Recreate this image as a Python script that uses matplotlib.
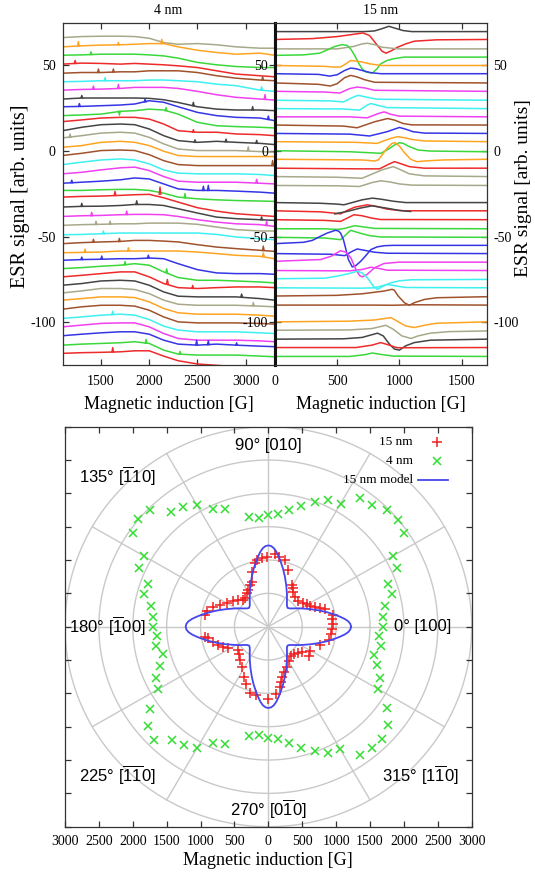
import numpy as np
import matplotlib
matplotlib.use('Agg')
import matplotlib.pyplot as plt

plt.rcParams['font.family'] = ['Liberation Serif', 'DejaVu Serif']
plt.rcParams['mathtext.fontset'] = 'custom'
plt.rcParams['mathtext.rm'] = 'Liberation Sans'
plt.rcParams['mathtext.default'] = 'rm'
plt.rcParams['axes.unicode_minus'] = False

PAL = {'r': '#ee2a2a', 'g': '#3ad83a', 'b': '#3535e6', 'm': '#f040f0', 'c': '#3ef0f0',
       'br': '#a0522d', 'o': '#ffa422', 'ol': '#a8a88a', 'k': '#454545'}

# ---------------- 4 nm spectra ----------------
FIELD_4NM = [1100, 1300, 1500, 1700, 1850, 2000, 2150, 2300, 2500, 2700, 2900, 3150, 3300]
COLORS_4NM = ['ol', 'o', 'g', 'r', 'br', 'c', 'm', 'k', 'b', 'g', 'r', 'k', 'ol', 'o', 'br', 'c', 'm', 'b', 'g',
              'r', 'k', 'm', 'ol', 'c', 'br', 'o', 'b', 'g', 'r', 'k', 'ol', 'o', 'br', 'c', 'm', 'b', 'g', 'r']
SIGNAL_4NM = [
    [66.3, 66.9, 67.1, 67.1, 66.9, 65.9, 63.4, 62.4, 62.8, 62.1, 60.9, 60.1, 60.1],
    [60.9, 61.5, 61.9, 62.1, 62.4, 62.8, 62.8, 60.9, 58.9, 57.6, 56.6, 57.2, 56.0],
    [56.0, 56.2, 56.6, 56.6, 56.6, 56.2, 55.6, 54.3, 51.8, 50.4, 49.4, 48.8, 48.8],
    [50.8, 51.4, 51.2, 50.8, 51.2, 50.8, 50.4, 49.8, 48.8, 46.9, 45.0, 44.0, 43.4],
    [45.5, 45.9, 45.9, 46.3, 46.3, 46.9, 46.9, 46.9, 45.9, 44.0, 42.6, 41.5, 41.1],
    [40.5, 40.7, 41.1, 41.1, 41.1, 41.5, 41.5, 41.1, 40.5, 39.1, 38.2, 35.6, 34.9],
    [35.6, 36.0, 36.2, 36.6, 37.2, 37.2, 37.2, 36.6, 34.9, 32.9, 31.4, 30.4, 29.8],
    [30.4, 31.0, 31.0, 31.0, 31.0, 30.8, 30.0, 28.4, 25.9, 24.5, 24.0, 24.0, 23.6],
    [25.9, 26.1, 26.5, 26.9, 27.5, 29.4, 28.5, 25.9, 22.6, 20.7, 19.7, 19.3, 17.8],
    [20.7, 21.1, 21.6, 23.2, 23.6, 24.5, 24.0, 21.6, 16.8, 14.8, 14.3, 13.9, 13.5],
    [17.2, 18.2, 19.3, 19.7, 19.7, 18.7, 15.8, 11.9, 11.0, 11.0, 10.0, 9.6, 9.0],
    [11.9, 13.9, 15.4, 15.8, 15.4, 12.9, 9.0, 6.1, 5.1, 5.7, 5.1, 4.5, 3.8],
    [7.7, 9.0, 10.5, 11.0, 10.5, 8.0, 4.2, 1.2, 0.3, 0.3, 0.3, -0.3, -0.7],
    [2.2, 3.2, 5.1, 5.7, 5.1, 3.2, -0.1, -2.6, -3.2, -3.2, -3.2, -3.2, -3.2],
    [-2.6, -1.3, 0.3, 0.6, 0.3, -2.1, -5.6, -7.9, -8.5, -8.5, -8.5, -8.5, -8.5],
    [-7.9, -6.5, -5.2, -4.6, -5.2, -7.5, -11.0, -12.9, -13.3, -13.3, -13.3, -13.7, -14.3],
    [-13.3, -12.4, -11.0, -9.8, -9.4, -11.4, -14.9, -17.6, -18.2, -18.2, -18.2, -18.8, -19.2],
    [-18.8, -18.2, -17.6, -16.8, -15.7, -16.3, -19.2, -22.1, -23.0, -23.0, -23.4, -24.0, -24.6],
    [-23.0, -23.0, -22.6, -22.4, -22.4, -23.0, -24.6, -26.9, -27.9, -28.5, -28.9, -29.2, -29.4],
    [-26.9, -26.5, -26.3, -25.9, -25.5, -25.3, -27.3, -29.8, -33.1, -35.1, -36.6, -37.6, -38.2],
    [-32.7, -32.3, -32.2, -31.8, -31.2, -31.2, -31.8, -33.7, -36.2, -38.6, -39.5, -40.1, -40.5],
    [-38.2, -37.8, -37.6, -37.2, -37.0, -37.0, -37.2, -38.2, -40.1, -41.5, -42.5, -43.0, -44.0],
    [-43.4, -43.0, -42.8, -42.5, -42.5, -42.1, -42.1, -42.1, -42.8, -44.4, -45.9, -46.7, -46.7],
    [-48.9, -48.7, -48.3, -47.9, -47.9, -47.9, -47.9, -47.9, -47.9, -48.7, -50.2, -51.2, -51.8],
    [-54.1, -53.5, -53.1, -52.8, -52.2, -52.2, -52.6, -53.1, -54.7, -56.1, -57.0, -58.0, -58.6],
    [-59.4, -59.2, -59.0, -58.4, -58.4, -58.4, -58.4, -58.4, -59.0, -59.9, -60.9, -61.5, -62.9],
    [-63.8, -63.4, -63.2, -62.9, -62.9, -62.5, -62.9, -65.8, -69.3, -71.2, -71.6, -71.6, -72.0],
    [-68.7, -68.1, -67.3, -66.7, -65.8, -66.7, -70.6, -73.9, -75.5, -75.5, -75.9, -76.5, -77.0],
    [-73.5, -72.6, -71.6, -70.6, -70.6, -73.5, -77.4, -79.8, -80.3, -79.8, -79.4, -79.4, -79.8],
    [-78.4, -77.4, -75.9, -75.5, -75.9, -78.4, -82.3, -84.8, -85.2, -85.2, -85.2, -86.2, -87.1],
    [-82.9, -81.7, -80.3, -80.3, -80.9, -83.3, -87.1, -89.5, -90.1, -90.1, -90.1, -90.6, -91.0],
    [-87.1, -86.2, -85.2, -85.2, -85.6, -88.1, -92.0, -94.5, -95.3, -95.3, -95.3, -95.9, -96.5],
    [-92.4, -91.0, -90.1, -90.1, -90.6, -93.0, -96.9, -99.8, -100.4, -100.4, -100.4, -100.7, -101.1],
    [-97.8, -96.9, -95.9, -95.3, -95.9, -98.4, -102.3, -104.6, -105.6, -105.6, -105.6, -106.2, -106.6],
    [-102.7, -101.7, -100.7, -100.4, -100.4, -102.7, -106.6, -109.5, -110.5, -110.5, -110.5, -110.9, -111.4],
    [-107.9, -107.0, -106.2, -105.6, -105.6, -107.0, -110.5, -112.8, -113.4, -112.8, -113.4, -114.0, -114.3],
    [-113.4, -112.8, -112.4, -112.0, -111.4, -112.4, -116.3, -118.6, -119.2, -119.2, -119.2, -119.8, -120.2],
    [-118.2, -117.8, -117.6, -117.3, -116.7, -116.7, -119.8, -122.5, -124.4, -125.2, -126.0, -127.0, -127.5],
]
# narrow noise spikes on the 4 nm spectra: trace index, field, baseline, peak
SPIKE_TRACE = [1, 1, 1, 2, 3, 4, 4, 4, 5, 5, 6, 6, 6, 7, 7, 7, 8, 8, 8, 9, 9, 10, 11, 11, 11, 12, 12, 14, 16,
               17, 17, 17, 18, 19, 19, 20, 20, 20, 21, 21, 21, 22, 22, 23, 24, 24, 24, 25, 25, 25, 26, 26, 26,
               27, 27, 28, 28, 29, 30, 33, 35, 35, 35, 36, 36, 37]
SPIKE_FIELD = [1265, 1680, 2130, 1396, 1231, 1473, 1628, 3177, 1542, 3166, 1421, 1680, 3201, 1300, 2458, 3073,
               1275, 1957, 3236, 1690, 2174, 2458, 2475, 2797, 3115, 1179, 3028, 3280, 3115,
               1196, 2562, 2613, 2371, 1645, 2112, 1300, 1870, 3166, 1403, 1766, 3218, 1448, 1594, 1524,
               1421, 1690, 3184, 1334, 1784, 3184, 1300, 1507, 1991, 1749, 2181, 2188, 2451, 2959, 3080,
               1621, 2492, 2613, 2907, 1967, 2320, 1621]
SPIKE_BASE = [61.5, 62.1, 62.8, 56.4, 51.2, 45.9, 46.1, 41.4, 41.1, 35.6, 36.1, 36.6, 30.3, 31.0, 26.5, 24.0,
              26.1, 28.7, 18.5, 23.2, 23.6, 11.0, 5.1, 5.4, 4.5, 8.0, 0.3, -8.5, -18.6,
              -18.5, -23.0, -23.0, -27.3, -25.9, -25.3, -32.3, -31.2, -40.2, -37.8, -37.1, -43.5, -42.9, -42.8,
              -48.3, -53.3, -52.8, -58.1, -59.1, -58.4, -61.6, -63.4, -63.2, -62.5, -66.5, -71.0, -77.5, -80.2,
              -85.2, -90.4, -95.5, -113.4, -113.2, -113.4, -112.3, -118.6, -117.5]
SPIKE_PEAK = [64.0, 63.5, 65.3, 58.0, 53.0, 48.0, 48.0, 43.5, 42.9, 37.5, 38.0, 39.0, 33.0, 32.5, 28.5, 26.0,
              27.8, 30.4, 20.5, 21.0, 25.4, 12.5, 6.6, 7.0, 6.3, 10.0, 2.5, -5.5, -16.5,
              -17.0, -20.5, -20.0, -24.8, -23.5, -21.0, -30.5, -29.0, -38.5, -35.8, -35.0, -41.0, -41.0, -40.9,
              -46.7, -51.5, -51.0, -55.5, -57.3, -56.5, -59.5, -61.9, -61.3, -60.8, -64.5, -68.8, -75.0, -78.5,
              -83.5, -88.5, -93.5, -110.5, -110.8, -112.0, -110.0, -117.0, -114.8]

# ---------------- 15 nm spectra ----------------
COLORS_15NM = ['k', 'r', 'ol', 'g', 'o', 'b', 'br', 'm', 'c', 'c', 'm', 'br', 'b', 'o', 'g', 'o', 'r', 'ol', 'ol',
               'k', 'r', 'k', 'r', 'g', 'g', 'b', 'b', 'm', 'm', 'c', 'c', 'br', 'br', 'o', 'ol', 'k', 'r', 'g']
FIELD_15NM = [
    [0, 720, 800, 860, 915, 960, 1030, 1100, 1700],
    [0, 300, 500, 620, 707, 760, 814, 860, 891, 930, 986, 1050, 1120, 1300, 1700],
    [0, 500, 630, 700, 743, 800, 860, 986, 1700],
    [0, 230, 360, 420, 480, 540, 580, 608, 640, 675, 700, 729, 760, 783, 820, 850, 900, 950, 1040, 1200, 1700],
    [0, 400, 470, 527, 570, 608, 650, 700, 760, 850, 1700],
    [0, 350, 440, 500, 560, 608, 650, 700, 770, 850, 1700],
    [0, 350, 445, 500, 560, 608, 660, 720, 800, 1700],
    [0, 400, 520, 600, 661, 720, 800, 1700],
    [0, 450, 550, 620, 667, 730, 820, 1700],
    [0, 550, 680, 740, 770, 820, 900, 1700],
    [0, 600, 740, 830, 877, 930, 1000, 1700],
    [0, 550, 660, 800, 905, 960, 1030, 1100, 1700],
    [0, 600, 760, 900, 1000, 1050, 1110, 1200, 1700],
    [0, 650, 820, 930, 986, 1040, 1100, 1200, 1700],
    [0, 600, 850, 900, 960, 1000, 1030, 1080, 1150, 1250, 1700],
    [0, 700, 800, 830, 860, 900, 940, 965, 1000, 1040, 1090, 1140, 1200, 1350, 1700],
    [0, 700, 840, 920, 960, 1000, 1080, 1200, 1700],
    [0, 500, 700, 860, 950, 1000, 1080, 1200, 1700],
    [0, 500, 680, 780, 850, 920, 1000, 1100, 1700],
    [0, 365, 500, 554, 620, 700, 783, 850, 950, 1050, 1700],
    [0, 365, 480, 527, 580, 640, 743, 820, 900, 1000, 1040, 1700],
    [480, 580, 680, 780, 900, 1000, 1090],
    [0, 400, 527, 580, 635, 700, 780, 850, 1700],
    [0, 400, 500, 560, 640, 720, 800, 1700],
    [0, 400, 480, 527, 608, 680, 760, 850, 1700],
    [0, 230, 300, 365, 420, 486, 510, 527, 550, 567, 590, 621, 650, 689, 730, 770, 820, 877, 950, 1700],
    [0, 450, 560, 620, 661, 720, 800, 900, 1700],
    [0, 365, 450, 527, 570, 610, 650, 680, 702, 740, 800, 877, 1000, 1700],
    [0, 600, 700, 770, 830, 900, 1700],
    [0, 400, 527, 600, 661, 700, 743, 790, 824, 870, 930, 1000, 1100, 1700],
    [0, 700, 800, 905, 980, 1050, 1700],
    [0, 500, 700, 877, 940, 958, 990, 1040, 1080, 1120, 1200, 1300, 1700],
    [0, 800, 950, 1100, 1700],
    [0, 600, 800, 932, 980, 1050, 1120, 1200, 1300, 1700],
    [0, 600, 780, 891, 950, 1020, 1094, 1150, 1250, 1400, 1700],
    [0, 550, 700, 824, 870, 920, 960, 1000, 1050, 1120, 1250, 1700],
    [0, 650, 780, 850, 920, 980, 1100, 1700],
    [0, 600, 720, 783, 850, 950, 1700],
]
SIGNAL_15NM = [
    [69.8, 69.8, 70.2, 71.5, 72.9, 71.9, 70.4, 69.8, 69.8],
    [65.2, 65.7, 66.9, 68.1, 69.0, 67.5, 62.6, 58.4, 57.2, 58.4, 60.7, 62.6, 64.2, 65.0, 65.2],
    [59.7, 59.7, 61.1, 62.6, 63.0, 62.2, 60.7, 59.7, 59.7],
    [55.9, 56.2, 57.2, 59.1, 61.1, 62.2, 61.7, 59.7, 55.9, 51.0, 48.1, 46.2, 45.8, 45.6, 48.1, 51.0, 52.9, 53.9,
     54.9, 54.9, 54.9],
    [50.0, 49.5, 49.1, 49.1, 51.0, 52.9, 52.6, 52.0, 51.0, 50.0, 50.0],
    [45.2, 44.8, 43.8, 44.6, 47.1, 48.5, 48.1, 47.1, 45.8, 45.2, 45.2],
    [39.8, 39.0, 38.0, 39.4, 42.9, 44.2, 43.3, 41.7, 40.2, 39.8],
    [34.9, 34.5, 33.9, 36.5, 37.4, 36.9, 35.5, 34.9],
    [29.7, 29.3, 28.7, 31.2, 32.6, 31.6, 30.3, 29.7],
    [24.8, 24.6, 23.9, 26.8, 27.8, 26.8, 25.4, 24.8],
    [20.0, 20.0, 19.4, 21.9, 22.9, 21.5, 20.4, 20.0],
    [15.2, 14.6, 13.6, 17.1, 19.0, 18.1, 16.1, 15.3, 15.2],
    [10.3, 9.9, 8.8, 11.3, 13.8, 12.8, 11.3, 10.5, 10.3],
    [5.5, 5.1, 4.5, 7.4, 8.4, 7.8, 6.8, 5.9, 5.5],
    [0.2, -0.4, -1.3, 0.6, 3.5, 4.9, 4.5, 2.6, 0.6, 0.0, -0.4],
    [-4.8, -5.2, -5.8, -5.2, -2.3, 1.6, 4.5, 4.9, 2.9, -0.9, -4.8, -6.2, -5.8, -5.2, -4.8],
    [-10.0, -10.4, -10.4, -7.5, -6.2, -7.1, -9.1, -10.0, -10.0],
    [-14.9, -15.3, -15.9, -11.0, -9.1, -10.6, -13.3, -14.5, -14.9],
    [-20.1, -20.3, -20.7, -18.4, -17.4, -18.0, -19.2, -19.9, -20.1],
    [-30.1, -30.5, -31.0, -31.4, -30.1, -28.5, -27.5, -28.1, -29.3, -30.1, -30.1],
    [-34.9, -35.5, -36.3, -36.7, -34.7, -32.8, -31.4, -32.4, -33.9, -34.7, -34.9, -34.9],
    [-36.7, -35.3, -33.4, -32.0, -33.4, -34.7, -35.3],
    [-40.1, -40.5, -41.1, -39.2, -37.2, -37.8, -39.2, -40.0, -40.1],
    [-45.4, -45.4, -45.8, -45.2, -43.6, -44.4, -45.2, -45.4],
    [-50.4, -50.8, -51.4, -51.8, -46.3, -47.9, -49.4, -50.2, -50.4],
    [-54.1, -53.3, -52.2, -49.8, -47.9, -46.3, -46.7, -47.9, -51.8, -56.6, -63.4, -67.7, -66.9, -64.4, -61.1,
     -57.6, -56.0, -55.3, -55.1, -55.1],
    [-59.9, -60.3, -61.1, -58.6, -57.2, -58.0, -59.1, -59.7, -59.9],
    [-64.4, -63.4, -61.5, -58.2, -59.1, -62.4, -69.2, -72.7, -73.5, -72.1, -68.2, -65.7, -64.9, -64.9],
    [-69.8, -70.0, -69.2, -67.9, -68.5, -69.6, -69.8],
    [-74.6, -74.3, -72.7, -71.5, -70.2, -71.2, -74.1, -78.9, -80.8, -78.9, -77.0, -75.8, -75.2, -75.0],
    [-79.9, -80.1, -79.9, -77.9, -78.9, -79.7, -79.9],
    [-84.7, -84.3, -83.4, -81.8, -80.8, -81.2, -84.7, -88.6, -90.1, -88.6, -86.7, -85.7, -85.1],
    [-90.0, -90.0, -90.1, -89.8, -90.0],
    [-99.8, -99.4, -98.7, -97.3, -99.3, -102.2, -103.1, -101.8, -100.6, -99.8],
    [-104.7, -104.5, -103.7, -101.8, -104.1, -108.0, -109.5, -108.0, -106.4, -105.5, -105.1],
    [-109.9, -109.7, -108.9, -106.4, -108.0, -112.8, -115.7, -116.3, -113.8, -111.9, -110.5, -109.9],
    [-114.8, -114.8, -113.4, -111.9, -113.4, -114.9, -114.9, -114.8],
    [-120.0, -120.0, -119.0, -118.0, -118.8, -119.8, -120.0],
]

# ---------------- angular dependence of resonance field ----------------
ANGLE_4NM = [0, 5, 10, 15, 20, 25, 30, 35, 40, 45, 50, 55, 60, 65, 70, 75, 80, 85, 90, 95, 100,
             110, 115, 120, 125, 130, 135, 140, 145, 150, 155, 160, 165, 170, 175, 180, 185, 190, 195, 200,
             205, 210, 215, 220, 225, 230, 235, 240, 245, 250,
             260, 265, 270, 275, 280, 285, 290, 295, 300, 305, 310, 315, 320, 325, 330, 335, 340, 345, 350, 355]
BRES_4NM = [1696, 1704, 1749, 1896, 1886, 2093, 2116, 2447, 2497, 2472, 2384, 2357, 2131, 2095, 1992, 1873,
            1777, 1696, 1675, 1642, 1676,
            1875, 1942, 2101, 2186, 2239, 2478, 2504, 2446, 2116, 2101, 1894, 1896, 1758, 1704, 1696, 1652,
            1684, 1611, 1708, 1833, 1872, 2140, 2317, 2395, 2217, 2173, 2101, 1933, 1875,
            1666, 1632, 1665, 1696, 1767, 1878, 1992, 2086, 2122, 2347, 2378, 2373, 2304, 2133, 1864, 1820,
            1699, 1613, 1681, 1639]
# 15 nm measured resonance field, components along [100] and [010] (G)
BX_15NM = [840, 948, 943, 958, 933, 923, 889, 761, 614, 604, 491, 442, 378, 334, 305, 270, 236, 206, 187, 172,
           113, -10, -182, -270, -329, -358, -393, -418, -432, -442, -589, -663, -737, -810, -894, -934,
           -929, -909, -810, -712, -604, -516, -442, -378, -344, -310, -295, -270, -246, -246, -197, -162,
           -98, -15, 98, 162, 246, 295, 344, 368, 368, 393, 442, 506, 565, 614, 688, 761]
BY_15NM = [260, 170, 110, 40, -40, -110, -200, -275, -360, -440, -385, -390, -410, -440, -510, -600, -675,
           -750, -825, -900, -1010, -1090, -1025, -1000, -860, -750, -600, -500, -410, -350, -325, -300,
           -275, -225, -175, -150, 175, 240, 290, 325, 360, 390, 400, 400, 425, 500, 550, 625, 675, 825,
           950, 1000, 1025, 1050, 1090, 1050, 1000, 850, 625, 575, 525, 450, 390, 360, 340, 310, 300, 275]
# 15 nm model, one lobe quadrant (0-90 deg); the model has four-fold symmetry
MODEL_ANGLE = [0, 2, 4, 6, 8, 10, 12, 14, 16, 18, 20, 23, 26, 29, 32, 35, 38, 41, 45,
               49, 52, 55, 58, 61, 64, 67, 70, 72, 74, 76, 78, 80, 82, 84, 86, 88, 90]
MODEL_BRES = [1220, 1210, 1180, 1130, 1070, 1010, 950, 895, 840, 790, 740, 675, 615, 565, 520, 478, 445, 418,
              400, 418, 445, 478, 520, 565, 615, 675, 740, 790, 840, 895, 950, 1010, 1070, 1130, 1180, 1210,
              1220]

POLAR_TICKS = [-3000, -2500, -2000, -1500, -1000, -500, 0, 500, 1000, 1500, 2000, 2500, 3000]
GRID_RADII = [500, 1000, 1500, 2000, 2500, 3000]
GRID_SPOKES = [0, 30, 60, 90, 120, 150, 180, 210, 240, 270, 300, 330]
DIRECTION_LABELS = ['0° [100]', '90° [010]', r'135° [$\overline{1}$10]', r'180° [$\overline{1}$00]',
                    r'225° [$\overline{11}$0]', r'270° [0$\overline{1}$0]', r'315° [1$\overline{1}$0]']

# ================= figure =================
W, H = 535, 875
fig = plt.figure(figsize=(W / 100, H / 100), dpi=100)
spine_col = '#333333'
tick_fs = 10
lab_fs = 13


def fx(px):
    return px / W


def fy(py):
    return 1 - py / H


ax1 = fig.add_axes([fx(62.5), fy(365), fx(274.5) - fx(62.5), fy(22.7) - fy(365)])
ax2 = fig.add_axes([fx(275), fy(365), fx(486.5) - fx(275), fy(22.7) - fy(365)])

for sig, col in zip(SIGNAL_4NM, COLORS_4NM):
    ax1.plot(FIELD_4NM, sig, color=PAL[col], lw=1.1)
for ti, f, b, p in zip(SPIKE_TRACE, SPIKE_FIELD, SPIKE_BASE, SPIKE_PEAK):
    ax1.plot([f - 9, f, f + 9], [b, p, b], color=PAL[COLORS_4NM[ti]], lw=1.0)

for fld, sig, col in zip(FIELD_15NM, SIGNAL_15NM, COLORS_15NM):
    ax2.plot(fld, sig, color=PAL[col], lw=1.1)

ax1.set_xlim(1100, 3300)
ax2.set_xlim(0, 1700)
for ax in (ax1, ax2):
    ax.set_ylim(-125, 75)
    ax.set_yticks([-100, -50, 0, 50])
    ax.tick_params(direction='in', length=4.5, width=0.9, top=True, right=True, labelsize=tick_fs,
                   color=spine_col)
    for s in ax.spines.values():
        s.set_color(spine_col)
        s.set_linewidth(0.9)
    ax.set_xlabel('Magnetic induction [G]', fontsize=lab_fs, labelpad=6)
ax1.set_xticks([1500, 2000, 2500, 3000])
ax2.set_xticks([0, 500, 1000, 1500])
ax1.tick_params(axis='y', pad=5)
ax1.tick_params(axis='x', pad=7)
ax2.tick_params(axis='x', pad=7)
ax2.tick_params(axis='y', labelleft=True, labelright=True, pad=5)
ax1.spines['right'].set_linewidth(2.2)
ax1.spines['right'].set_color('#111111')
ax2.spines['left'].set_linewidth(2.2)
ax2.spines['left'].set_color('#111111')
fig.text(fx(20.5), fy(196), 'ESR signal [arb. units]', rotation=90, ha='center', va='center', fontsize=14.5)
fig.text(fx(524), fy(188), 'ESR signal [arb. units]', rotation=90, ha='center', va='center', fontsize=14)
ax1.set_title('4 nm', fontsize=10, pad=6)
ax2.set_title('15 nm', fontsize=10, pad=6)

# ---------------- polar panel ----------------
ax3 = fig.add_axes([fx(65), fy(826.7), fx(471.7) - fx(65), fy(426.7) - fy(826.7)])
grid_col = '#c9c9c9'
t = np.linspace(0, 2 * np.pi, 400)
for r in GRID_RADII:
    ax3.plot(r * np.cos(t), r * np.sin(t), color=grid_col, lw=1.0, zorder=1)
for a in GRID_SPOKES:
    ar = np.deg2rad(a)
    ax3.plot([0, 3000 * np.cos(ar)], [0, 3000 * np.sin(ar)], color=grid_col, lw=1.0, zorder=1)

ang4 = np.deg2rad(ANGLE_4NM)
b4 = np.array(BRES_4NM, dtype=float)
ax3.plot(b4 * np.cos(ang4), b4 * np.sin(ang4), linestyle='none', marker='x', ms=6, mew=1.1,
         color='#33dd33', zorder=3)
ax3.plot(BX_15NM, BY_15NM, linestyle='none', marker='+', ms=6.5, mew=1.1, color='#f02020', zorder=4)

ma = np.deg2rad(np.concatenate([np.array(MODEL_ANGLE) + q for q in (0, 90, 180, 270)]))
mb = np.array(MODEL_BRES * 4, dtype=float)
ax3.plot(mb * np.cos(ma), mb * np.sin(ma), color='#4646ee', lw=1.3, zorder=5)

ax3.set_xlim(-3000, 3000)
ax3.set_ylim(-3000, 3000)
ax3.set_xticks(POLAR_TICKS)
ax3.set_xticklabels([str(abs(v)) for v in POLAR_TICKS])
ax3.set_yticks(POLAR_TICKS)
ax3.set_yticklabels([])
ax3.tick_params(direction='in', length=4.5, width=0.9, top=True, right=True, labelsize=10, pad=6,
                color=spine_col)
for s in ax3.spines.values():
    s.set_color(spine_col)
    s.set_linewidth(0.9)
ax3.set_xlabel('Magnetic induction [G]', fontsize=lab_fs, labelpad=3)

lab_pos = [(2282, 0), (0, 2725), (-2232, 2260), (-2379, 0), (-2232, -2225), (0, -2735), (2237, -2225)]
for txt, (x, y) in zip(DIRECTION_LABELS, lab_pos):
    ax3.text(x, y, txt, fontsize=12, family=['Liberation Sans', 'DejaVu Sans'], ha='center', va='center',
             zorder=6)

# legend (gnuplot style: text right-aligned, sample on the right)
leg_fs = 9.5
ax3.text(0.855, 0.962, '15 nm', transform=ax3.transAxes, ha='right', va='center', fontsize=leg_fs)
ax3.plot([0.9154], [0.962], transform=ax3.transAxes, marker='+', ms=6.5, mew=1.1, color='#f02020',
         linestyle='none', clip_on=False)
ax3.text(0.855, 0.914, '4 nm', transform=ax3.transAxes, ha='right', va='center', fontsize=leg_fs)
ax3.plot([0.9154], [0.914], transform=ax3.transAxes, marker='x', ms=6, mew=1.1, color='#33dd33',
         linestyle='none', clip_on=False)
ax3.text(0.855, 0.867, '15 nm model', transform=ax3.transAxes, ha='right', va='center', fontsize=leg_fs)
ax3.plot([0.8685, 0.9413], [0.867, 0.867], transform=ax3.transAxes, color='#4646ee', lw=1.3)

fig.savefig('out.png', dpi=100)
